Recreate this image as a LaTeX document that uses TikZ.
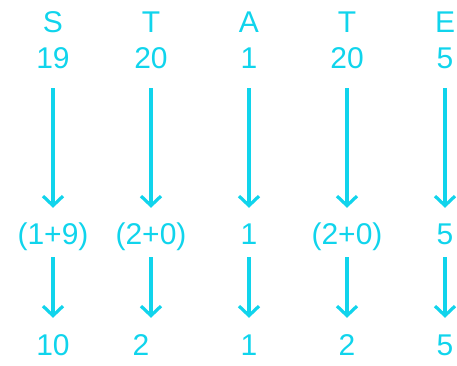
\documentclass[tikz,border=0pt]{standalone}
\usepackage{fontspec}
\setmainfont{Liberation Sans}
\usetikzlibrary{arrows.meta}
\definecolor{stateCyan}{RGB}{16,212,236}

\begin{document}
\begin{tikzpicture}[x=1pt,y=-1pt,
    lbl/.style={text=stateCyan,inner sep=0pt,text height=21pt,text depth=0pt,
                font=\fontsize{30}{32}\selectfont},
    dnarrow/.style={draw=stateCyan,line width=3.2pt,
                    -{Straight Barb[length=9.5pt,width=20pt]}}]
  \useasboundingbox (0,0) rectangle (457,366);

  % Colunas: letra, valor, soma dos digitos, resultado
  \foreach \i/\x/\ch/\num/\mdl/\res/\dx in {
    1/53/S/19/{(1+9)}/10/0,
    2/151/T/20/{(2+0)}/2/-10,
    3/249/A/1/1/1/0,
    4/347/T/20/{(2+0)}/2/0,
    5/445/E/5/5/5/0}{
    \node[lbl] (ltr\i) at (\x,22) {\ch};
    \node[lbl] (num\i) at (\x,58) {\num};
    \node[lbl] (mdl\i) at (\x,234) {\mdl};
    \node[lbl] (res\i) at (\x+\dx,345) {\res};
    \draw[dnarrow,shorten <=19.5pt,shorten >=15.5pt] (num\i) -- (mdl\i);
    \draw[dnarrow,shorten <=12.5pt,shorten >=16.5pt]
      (mdl\i.south) -- (mdl\i.south |- res\i.north);
  }

\end{tikzpicture}
\end{document}
